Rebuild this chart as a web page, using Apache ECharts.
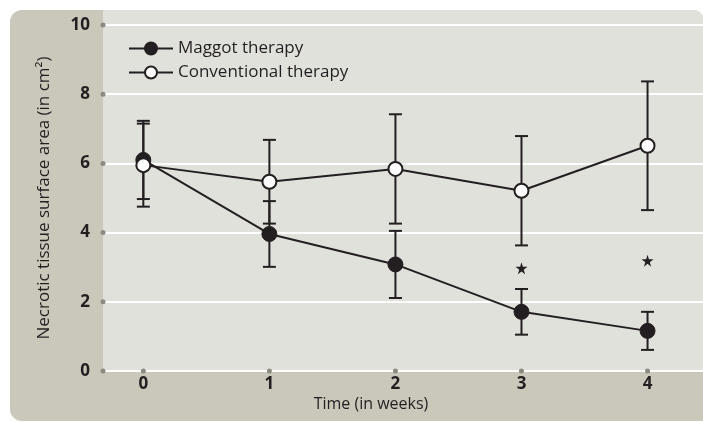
<!DOCTYPE html>
<html>
<head>
<meta charset="utf-8">
<script src="https://cdn.jsdelivr.net/npm/echarts@6/dist/echarts.min.js"></script>
<style>
  html, body { margin: 0; padding: 0; background: #ffffff; }
  #chart { width: 703px; height: 422px; }
</style>
</head>
<body>
<div id="chart"></div>
<script>
// Necrotic tissue surface area over time, mean ± error per group
const weeks = [0, 1, 2, 3, 4];
const maggotMean = [6.10, 3.96, 3.08, 1.71, 1.16];
const maggotErr = [1.13, 0.95, 0.97, 0.66, 0.55];
const convMean = [5.95, 5.47, 5.84, 5.21, 6.51];
const convErr = [1.20, 1.21, 1.58, 1.58, 1.86];
// significance markers (week, height)
const starWeeks = [3, 4];
const starHeights = [2.97, 3.19];
const yTicks = [0, 2, 4, 6, 8, 10];
const xTicks = [0, 1, 2, 3, 4];

const INK = '#231f20';
const DARK_BG = '#cac7bb';
const LIGHT_BG = '#e1e1dc';
const DOT = '#8d8b80';
const FONT = '"Open Sans", sans-serif';

const X_MIN = -0.32, X_MAX = 4.44;

const STAR = 'path://M50,0 L61,35 L98,35 L68,57 L79,91 L50,70 L21,91 L32,57 L2,35 L39,35 Z';

function errorBars(means, errs) {
  return weeks.map((w, i) => [w, means[i] - errs[i], means[i] + errs[i]]);
}

function renderErrorBar(params, api) {
  const x = api.value(0);
  const lo = api.coord([x, api.value(1)]);
  const hi = api.coord([x, api.value(2)]);
  const half = 6.5;
  const style = { stroke: INK, lineWidth: 2, fill: null };
  return {
    type: 'group',
    children: [
      { type: 'line', shape: { x1: lo[0], y1: lo[1], x2: hi[0], y2: hi[1] }, style },
      { type: 'line', shape: { x1: hi[0] - half, y1: hi[1], x2: hi[0] + half, y2: hi[1] }, style },
      { type: 'line', shape: { x1: lo[0] - half, y1: lo[1], x2: lo[0] + half, y2: lo[1] }, style }
    ]
  };
}

const chart = echarts.init(document.getElementById('chart'), null, { renderer: 'canvas' });

chart.setOption({
  animation: false,
  textStyle: { fontFamily: FONT },
  graphic: [
    {
      type: 'rect', z: -20, silent: true,
      shape: { x: 10, y: 10, width: 693, height: 411, r: [12, 9, 0, 12] },
      style: { fill: DARK_BG }
    },
    {
      type: 'rect', z: -19, silent: true,
      shape: { x: 103, y: 10, width: 600, height: 361, r: [0, 9, 0, 0] },
      style: { fill: LIGHT_BG }
    },
    {
      type: 'text', z: 10, silent: true,
      x: 371, y: 404,
      style: {
        text: 'Time (in weeks)', fill: INK, font: '16px ' + FONT,
        align: 'center', verticalAlign: 'middle'
      }
    }
  ],
  grid: { left: 103, right: 0, top: 25, bottom: 51, containLabel: false },
  legend: {
    orient: 'vertical',
    left: 123, top: 35,
    itemWidth: 44, itemHeight: 15, itemGap: 7,
    textStyle: { fontFamily: FONT, fontSize: 17, color: INK },
    data: ['Maggot therapy', 'Conventional therapy']
  },
  xAxis: {
    type: 'value',
    min: X_MIN, max: X_MAX,
    axisLine: { show: false },
    axisTick: { show: false },
    splitLine: { show: false },
    axisLabel: {
      customValues: xTicks,
      color: INK, fontSize: 17, fontWeight: 'bold', margin: 5, fontFamily: FONT
    }
  },
  yAxis: {
    type: 'value',
    min: 0, max: 10, interval: 2,
    name: 'Necrotic tissue surface area (in cm²)',
    nameLocation: 'middle',
    nameGap: 50,
    nameTextStyle: { color: INK, fontSize: 17, fontFamily: FONT },
    axisLine: { show: false },
    axisTick: { show: false },
    splitLine: { lineStyle: { color: '#ffffff', width: 2 } },
    axisLabel: { color: INK, fontSize: 17, fontWeight: 'bold', margin: 13, fontFamily: FONT }
  },
  series: [
    {
      name: 'yTickDots', type: 'scatter', silent: true, clip: false, z: 1,
      symbol: 'circle', symbolSize: 5,
      itemStyle: { color: DOT, opacity: 1 },
      data: yTicks.map(v => [X_MIN, v])
    },
    {
      name: 'xTickDots', type: 'scatter', silent: true, clip: false, z: 1,
      symbol: 'circle', symbolSize: 5,
      itemStyle: { color: DOT, opacity: 1 },
      data: xTicks.map(v => [v, 0])
    },
    {
      name: 'maggotErr', type: 'custom', silent: true, z: 3,
      renderItem: renderErrorBar,
      encode: { x: 0, y: [1, 2] },
      data: errorBars(maggotMean, maggotErr)
    },
    {
      name: 'convErr', type: 'custom', silent: true, z: 3,
      renderItem: renderErrorBar,
      encode: { x: 0, y: [1, 2] },
      data: errorBars(convMean, convErr)
    },
    {
      name: 'Maggot therapy', type: 'line', z: 4,
      symbol: 'circle', symbolSize: 15, showSymbol: true,
      lineStyle: { color: INK, width: 2 },
      itemStyle: { color: INK, borderColor: INK, borderWidth: 1 },
      data: weeks.map((w, i) => [w, maggotMean[i]])
    },
    {
      name: 'Conventional therapy', type: 'line', z: 5,
      symbol: 'circle', symbolSize: 14, showSymbol: true,
      lineStyle: { color: INK, width: 2 },
      itemStyle: { color: '#ffffff', borderColor: INK, borderWidth: 2 },
      data: weeks.map((w, i) => [w, convMean[i]])
    },
    {
      name: 'significance', type: 'scatter', silent: true, z: 5,
      symbol: STAR, symbolSize: 12,
      itemStyle: { color: INK, opacity: 1 },
      data: starWeeks.map((w, i) => [w, starHeights[i]])
    }
  ]
});
</script>
</body>
</html>
